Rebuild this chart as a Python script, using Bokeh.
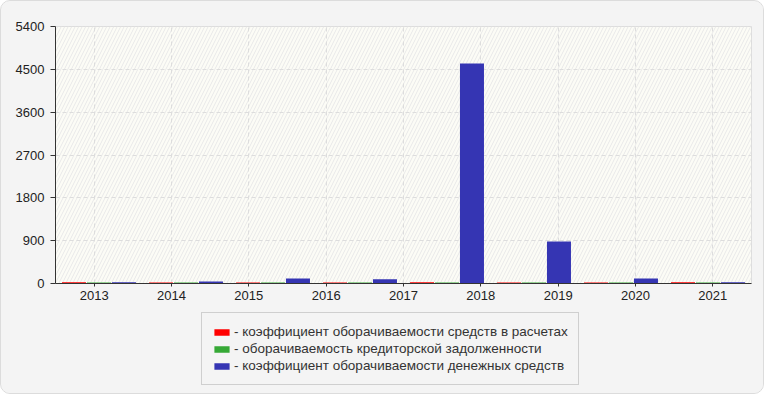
from bokeh.plotting import figure
from bokeh.layouts import column
from bokeh.models import (Range1d, FixedTicker, Legend, LegendItem, BoxAnnotation,
                          ColumnDataSource)
from bokeh.embed import file_html
from bokeh.resources import INLINE

# ---- data ----
years = ["2013", "2014", "2015", "2016", "2017", "2018", "2019", "2020", "2021"]
groups = [0, 1, 2, 3, 4, 5, 6, 7]
receivables = [24, 22, 23, 21, 25, 23, 22, 24]
payables = [22, 21, 22, 20, 23, 22, 21, 23]
cash = [24, 42, 105, 88, 4620, 880, 105, 24]
y_ticks = [0, 900, 1800, 2700, 3600, 4500, 5400]
labels = ["- коэффициент оборачиваемости средств в расчетах",
          "- оборачиваемость кредиторской задолженности",
          "- коэффициент оборачиваемости денежных средств"]
colors = ["#ff0000", "#36a936", "#3535b3"]

FONT = "Liberation Sans"
BG = "#f4f4f4"

p = figure(width=762, height=310, output_backend="svg", toolbar_location=None,
           x_range=Range1d(0, len(groups)), y_range=Range1d(0, 5400),
           min_border_left=54, min_border_right=12, min_border_top=25,
           min_border_bottom=28)
p.background_fill_color = "#fcfcf6"
p.border_fill_color = BG
p.outline_line_color = "#dddddd"

hatch = BoxAnnotation(fill_alpha=0, line_color=None, hatch_pattern="/",
                      hatch_color="#e9e9e9", hatch_scale=7, hatch_weight=1,
                      level="image")
p.add_layout(hatch)

src = ColumnDataSource(dict(g=groups, r=receivables, pp=payables, c=cash))
xc = [g + 0.5 for g in groups]
src.data["xr"] = [x - 0.287 for x in xc]
src.data["xg"] = xc
src.data["xb"] = [x + 0.287 for x in xc]
w = 0.276
p.vbar(x="xr", top="r", width=w, source=src, fill_color=colors[0], line_color=None)
p.vbar(x="xg", top="pp", width=w, source=src, fill_color=colors[1], line_color=None)
p.vbar(x="xb", top="c", width=w, source=src, fill_color=colors[2], line_color=None)

# x axis: year labels evenly spread across the frame
n = len(years)
xpos = [len(groups) * (k + 0.5) / n for k in range(n)]
p.xaxis.ticker = FixedTicker(ticks=xpos)
p.xaxis.major_label_overrides = {x: y for x, y in zip(xpos, years)}
p.yaxis.ticker = FixedTicker(ticks=y_ticks)

for ax in (p.xaxis, p.yaxis):
    ax.axis_line_color = "#333333"
    ax.major_tick_line_color = "#333333"
    ax.minor_tick_line_color = None
    ax.major_tick_in = 0
    ax.major_label_text_font = FONT
    ax.major_label_text_font_size = "13px"
    ax.major_label_text_color = "#222222"
p.xaxis.major_tick_out = 3
p.yaxis.major_tick_out = 5
p.yaxis.major_label_standoff = 6
p.xaxis.major_label_standoff = 4

p.grid.grid_line_color = "#dddddd"
p.grid.grid_line_dash = "4 3"

# legend panel
q = figure(width=762, height=82, output_backend="svg", toolbar_location=None,
           x_range=Range1d(0, 1), y_range=Range1d(0, 1),
           x_axis_location=None, y_axis_location=None,
           min_border_left=0, min_border_right=0, min_border_top=0,
           min_border_bottom=0)
q.grid.visible = False
q.background_fill_color = BG
q.border_fill_color = BG
q.outline_line_color = None
lr = [q.vbar(x=[0.5], top=[0], bottom=[0], width=0.0, fill_color=c, line_color=None)
      for c in colors]

legend = Legend(items=[LegendItem(label=l, renderers=[r]) for l, r in zip(labels, lr)],
                location=(146, 8), orientation="vertical")
legend.background_fill_color = BG
legend.background_fill_alpha = 1
legend.border_line_color = "#aaaaaa"
legend.label_text_font = FONT
legend.label_text_font_size = "13.5px"
legend.label_text_color = "#333333"
legend.glyph_width = 19
legend.glyph_height = 8
legend.label_height = 17
legend.label_standoff = 3
legend.spacing = 0
legend.padding = 10
legend.margin = 0
q.add_layout(legend, "center")

layout = column(p, q, spacing=0)
layout.styles = {"border": "1px solid #dcdcdc", "border-radius": "10px",
                 "overflow": "hidden", "background-color": BG}

open("out.html", "w").write(file_html(layout, INLINE))
